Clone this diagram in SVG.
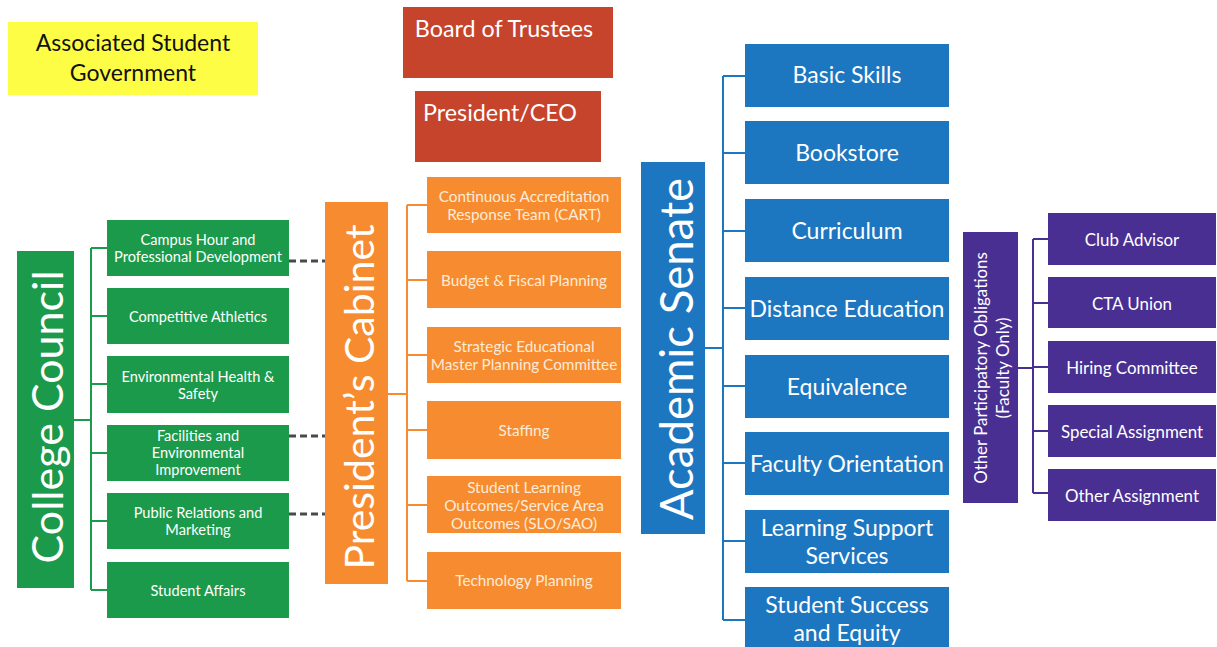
<svg xmlns="http://www.w3.org/2000/svg" width="1217" height="647" viewBox="0 0 1217 647">
<style>
text{font-family:Lato,"Open Sans","Liberation Sans",sans-serif;fill:#fff;text-anchor:middle;dominant-baseline:central}
.g{fill:#1b9a4b}.o{fill:#f68c2f}.b{fill:#1c76c0}.p{fill:#4a2f92}.r{fill:#c6432c}.y{fill:#fdfd45}
.gt{font-size:14.6px}.ot{font-size:15.3px;fill:#fdebd8}.bt{font-size:23px}.pt{font-size:16.9px}
.rt{font-size:23.3px}.yt{fill:#111;font-size:23px}
.lg{fill:none;stroke:#1b9a4b;stroke-width:2}.lo{fill:none;stroke:#f68c2f;stroke-width:2}
.lb{fill:none;stroke:#1c76c0;stroke-width:2}.lp{fill:none;stroke:#4a2f92;stroke-width:2}
.ld{fill:none;stroke:#4a4a4a;stroke-width:3;stroke-dasharray:7 4}
</style>
<rect width="1217" height="647" fill="#fff"/>
<g id="connectors">
<path class="lg" d="M74 420H91M91 248V590M91 248H107M91 316H107M91 384H107M91 453H107M91 521H107M91 590H107"/>
<path class="ld" d="M289 261H325M289 436H325M289 514H325"/>
<path class="lo" d="M388 394H407M407 205V581M407 205H427M407 280H427M407 355H427M407 430H427M407 505H427M407 581H427"/>
<path class="lb" d="M705 348H723M723 76V620M723 76H745M723 153H745M723 231H745M723 308H745M723 386H745M723 463H745M723 541H745M723 620H745"/>
<path class="lp" d="M1018 368H1033M1033 239V493M1033 239H1048M1033 303H1048M1033 367H1048M1033 431H1048M1033 493H1048"/>
</g>
<g id="asg"><rect class="y" x="8" y="22" width="250" height="73"/><text class="yt" x="133" y="42">Associated Student</text><text class="yt" x="133" y="72">Government</text></g>
<g id="board"><rect class="r" x="403" y="7" width="210" height="71"/><text class="rt" x="504" y="28">Board of Trustees</text></g>
<g id="president"><rect class="r" x="415" y="91" width="186" height="71"/><text class="rt" x="500" y="112">President/CEO</text></g>
<g id="college-council"><rect class="g" x="17" y="251" width="57" height="337"/><text transform="translate(46 417) rotate(-90)" style="font-size:43px">College Council</text></g>
<g id="cc1"><rect class="g" x="107" y="220" width="182" height="56"/><text class="gt" x="198" y="239">Campus Hour and</text><text class="gt" x="198" y="256">Professional Development</text></g>
<g id="cc2"><rect class="g" x="107" y="288" width="182" height="56"/><text class="gt" x="198" y="316">Competitive Athletics</text></g>
<g id="cc3"><rect class="g" x="107" y="356" width="182" height="57"/><text class="gt" x="198" y="376">Environmental Health &amp;</text><text class="gt" x="198" y="393">Safety</text></g>
<g id="cc4"><rect class="g" x="107" y="425" width="182" height="56"/><text class="gt" x="198" y="435">Facilities and</text><text class="gt" x="198" y="452">Environmental</text><text class="gt" x="198" y="469">Improvement</text></g>
<g id="cc5"><rect class="g" x="107" y="493" width="182" height="56"/><text class="gt" x="198" y="512">Public Relations and</text><text class="gt" x="198" y="529">Marketing</text></g>
<g id="cc6"><rect class="g" x="107" y="562" width="182" height="56"/><text class="gt" x="198" y="590">Student Affairs</text></g>
<g id="cabinet"><rect class="o" x="325" y="202" width="63" height="382"/><text transform="translate(358 397) rotate(-90)" style="font-size:41px">President’s Cabinet</text></g>
<g id="pc1"><rect class="o" x="427" y="177" width="194" height="56"/><text class="ot" x="524" y="196">Continuous Accreditation</text><text class="ot" x="524" y="214">Response Team (CART)</text></g>
<g id="pc2"><rect class="o" x="427" y="251" width="194" height="57"/><text class="ot" x="524" y="280">Budget &amp; Fiscal Planning</text></g>
<g id="pc3"><rect class="o" x="427" y="327" width="194" height="56"/><text class="ot" x="524" y="346">Strategic Educational</text><text class="ot" x="524" y="364">Master Planning Committee</text></g>
<g id="pc4"><rect class="o" x="427" y="401" width="194" height="58"/><text class="ot" x="524" y="430">Staffing</text></g>
<g id="pc5"><rect class="o" x="427" y="476" width="194" height="57"/><text class="ot" x="524" y="487">Student Learning</text><text class="ot" x="524" y="505">Outcomes/Service Area</text><text class="ot" x="524" y="523">Outcomes (SLO/SAO)</text></g>
<g id="pc6"><rect class="o" x="427" y="552" width="194" height="57"/><text class="ot" x="524" y="580">Technology Planning</text></g>
<g id="senate"><rect class="b" x="641" y="162" width="64" height="372"/><text transform="translate(675 349) rotate(-90)" style="font-size:45.5px">Academic Senate</text></g>
<g id="as1"><rect class="b" x="745" y="44" width="204" height="63"/><text class="bt" x="847" y="74">Basic Skills</text></g>
<g id="as2"><rect class="b" x="745" y="121" width="204" height="63"/><text class="bt" x="847" y="152">Bookstore</text></g>
<g id="as3"><rect class="b" x="745" y="199" width="204" height="63"/><text class="bt" x="847" y="230">Curriculum</text></g>
<g id="as4"><rect class="b" x="745" y="277" width="204" height="63"/><text class="bt" x="847" y="308">Distance Education</text></g>
<g id="as5"><rect class="b" x="745" y="355" width="204" height="63"/><text class="bt" x="847" y="386">Equivalence</text></g>
<g id="as6"><rect class="b" x="745" y="432" width="204" height="63"/><text class="bt" x="847" y="463">Faculty Orientation</text></g>
<g id="as7"><rect class="b" x="745" y="510" width="204" height="63"/><text class="bt" x="847" y="527">Learning Support</text><text class="bt" x="847" y="555">Services</text></g>
<g id="as8"><rect class="b" x="745" y="587" width="204" height="62"/><text class="bt" x="847" y="604">Student Success</text><text class="bt" x="847" y="632">and Equity</text></g>
<g id="other"><rect class="p" x="963" y="232" width="55" height="271"/><text class="pt" transform="translate(980 368) rotate(-90)">Other Participatory Obligations</text><text class="pt" transform="translate(1002 368) rotate(-90)">(Faculty Only)</text></g>
<g id="op1"><rect class="p" x="1048" y="213" width="168" height="52"/><text class="pt" x="1132" y="239">Club Advisor</text></g>
<g id="op2"><rect class="p" x="1048" y="277" width="168" height="51"/><text class="pt" x="1132" y="303">CTA Union</text></g>
<g id="op3"><rect class="p" x="1048" y="341" width="168" height="52"/><text class="pt" x="1132" y="367">Hiring Committee</text></g>
<g id="op4"><rect class="p" x="1048" y="405" width="168" height="52"/><text class="pt" x="1132" y="431">Special Assignment</text></g>
<g id="op5"><rect class="p" x="1048" y="469" width="168" height="52"/><text class="pt" x="1132" y="495">Other Assignment</text></g>
</svg>
